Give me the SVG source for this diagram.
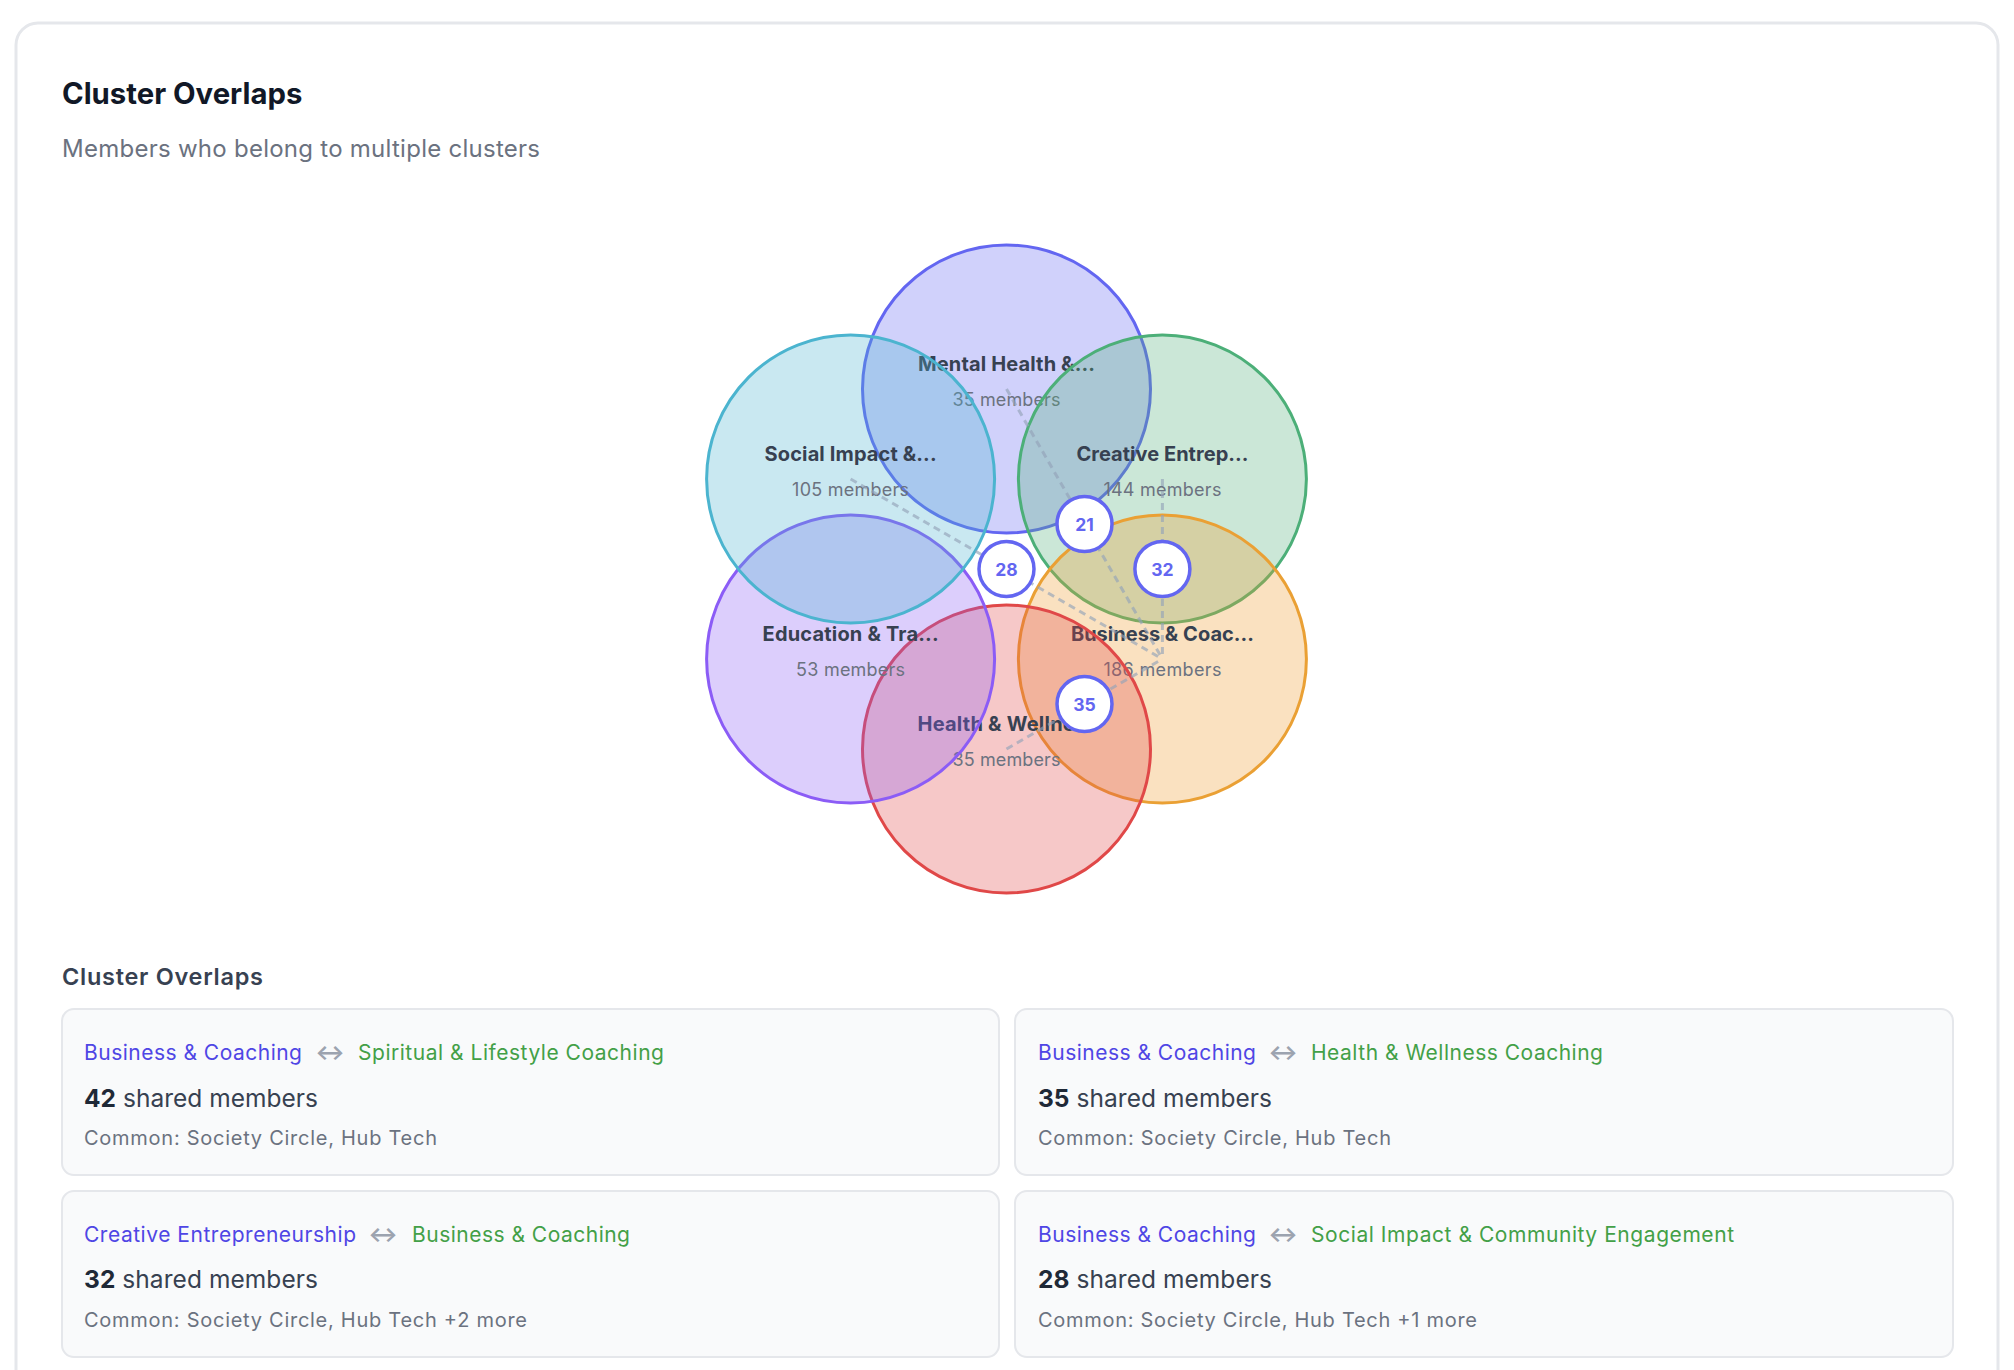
<svg xmlns="http://www.w3.org/2000/svg" width="2014" height="1370" viewBox="0 0 2014 1370">
<style>
text{font-family:Inter,"Liberation Sans",sans-serif}
.title{font-size:29.3px;font-weight:700;fill:#111827}
.sub{font-size:24px;fill:#6b7280}
.h2{font-size:23.5px;font-weight:600;fill:#374151}
.cl{stroke-width:3}
.name{font-size:20px;font-weight:700;fill:#374151;text-anchor:middle}
.cnt{font-size:18px;fill:#6b7280;text-anchor:middle}
.link{stroke:#94a3b8;stroke-opacity:.65;stroke-width:3;stroke-dasharray:7 5;fill:none}
.badge circle{fill:#fff;stroke:#6366f1;stroke-width:3.5}
.badge text{font-size:17.5px;font-weight:700;fill:#6366f1;text-anchor:middle}
.card{fill:#f9fafb;stroke:#e5e7eb;stroke-width:2}
.a{font-size:21px;fill:#4f46e5}
.b{font-size:21px;fill:#43a047}
.arr{font-size:22px;font-weight:700;fill:#9ca3af;text-anchor:middle}
.sh{font-size:24.5px;fill:#374151}
.sh tspan{font-weight:700;fill:#1f2937}
.com{font-size:20px;fill:#6b7280}
</style>
<rect x="16" y="23" width="1982" height="1420" rx="22" fill="#fff" stroke="#e5e7eb" stroke-width="3"/>
<text class="title" x="62" y="104">Cluster Overlaps</text>
<text class="sub" x="62" y="157" textLength="478" lengthAdjust="spacing">Members who belong to multiple clusters</text>

<g id="cluster-mental">
<circle class="cl" cx="1006.5" cy="389" r="144" fill="#6366f1" fill-opacity=".3" stroke="#6366f1"/>
<text class="name" x="1006.5" y="371" textLength="177" lengthAdjust="spacing">Mental Health &amp;...</text>
<text class="cnt" x="1006.5" y="406" textLength="108" lengthAdjust="spacing">35 members</text>
</g>
<g id="cluster-creative">
<circle class="cl" cx="1162.4" cy="479" r="144" fill="#52b07a" fill-opacity=".3" stroke="#4caf78"/>
<text class="name" x="1162.4" y="461" textLength="172" lengthAdjust="spacing">Creative Entrep...</text>
<text class="cnt" x="1162.4" y="496" textLength="118" lengthAdjust="spacing">144 members</text>
</g>
<g id="cluster-business">
<circle class="cl" cx="1162.4" cy="659" r="144" fill="#ee9c2e" fill-opacity=".3" stroke="#eaa034"/>
<text class="name" x="1162.4" y="641" textLength="183" lengthAdjust="spacing">Business &amp; Coac...</text>
<text class="cnt" x="1162.4" y="676" textLength="118" lengthAdjust="spacing">186 members</text>
</g>
<g id="cluster-health">
<circle class="cl" cx="1006.5" cy="749" r="144" fill="#e04a4a" fill-opacity=".3" stroke="#e04848"/>
<text class="name" x="1006.5" y="731" textLength="178" lengthAdjust="spacing">Health &amp; Wellne...</text>
<text class="cnt" x="1006.5" y="766" textLength="108" lengthAdjust="spacing">35 members</text>
</g>
<g id="cluster-education">
<circle class="cl" cx="850.6" cy="659" r="144" fill="#8b5cf6" fill-opacity=".3" stroke="#8b5cf6"/>
<text class="name" x="850.6" y="641" textLength="176" lengthAdjust="spacing">Education &amp; Tra...</text>
<text class="cnt" x="850.6" y="676" textLength="109" lengthAdjust="spacing">53 members</text>
</g>
<g id="cluster-social">
<circle class="cl" cx="850.6" cy="479" r="144" fill="#4bb4cf" fill-opacity=".3" stroke="#4bb4cf"/>
<text class="name" x="850.6" y="461" textLength="172" lengthAdjust="spacing">Social Impact &amp;...</text>
<text class="cnt" x="850.6" y="496" textLength="117" lengthAdjust="spacing">105 members</text>
</g>

<g id="connectors">
<line class="link" x1="1006.5" y1="389" x2="1162.4" y2="659"/>
<line class="link" x1="850.6" y1="479" x2="1162.4" y2="659"/>
<line class="link" x1="1162.4" y1="479" x2="1162.4" y2="659"/>
<line class="link" x1="1006.5" y1="749" x2="1162.4" y2="659"/>
</g>

<g id="overlap-21" class="badge"><circle cx="1084.5" cy="524" r="27.5"/><text x="1084.5" y="530.5">21</text></g>
<g id="overlap-28" class="badge"><circle cx="1006.5" cy="569" r="27.5"/><text x="1006.5" y="575.5">28</text></g>
<g id="overlap-32" class="badge"><circle cx="1162.4" cy="569" r="27.5"/><text x="1162.4" y="575.5">32</text></g>
<g id="overlap-35" class="badge"><circle cx="1084.5" cy="704" r="27.5"/><text x="1084.5" y="710.5">35</text></g>

<text class="h2" x="62" y="985" textLength="201" lengthAdjust="spacing">Cluster Overlaps</text>

<g id="card-1">
<rect class="card" x="62" y="1009" width="937" height="166" rx="12"/>
<text class="a" x="84" y="1060" textLength="218" lengthAdjust="spacing">Business &amp; Coaching</text>
<text class="arr" x="330" y="1060">↔</text>
<text class="b" x="358" y="1060" textLength="306" lengthAdjust="spacing">Spiritual &amp; Lifestyle Coaching</text>
<text class="sh" x="84" y="1107" textLength="234" lengthAdjust="spacing"><tspan>42</tspan> shared members</text>
<text class="com" x="84" y="1145" textLength="353" lengthAdjust="spacing">Common: Society Circle, Hub Tech</text>
</g>
<g id="card-2">
<rect class="card" x="1015" y="1009" width="938" height="166" rx="12"/>
<text class="a" x="1038" y="1060" textLength="218" lengthAdjust="spacing">Business &amp; Coaching</text>
<text class="arr" x="1283" y="1060">↔</text>
<text class="b" x="1311" y="1060" textLength="292" lengthAdjust="spacing">Health &amp; Wellness Coaching</text>
<text class="sh" x="1038" y="1107" textLength="234" lengthAdjust="spacing"><tspan>35</tspan> shared members</text>
<text class="com" x="1038" y="1145" textLength="353" lengthAdjust="spacing">Common: Society Circle, Hub Tech</text>
</g>
<g id="card-3">
<rect class="card" x="62" y="1191" width="937" height="166" rx="12"/>
<text class="a" x="84" y="1242" textLength="272" lengthAdjust="spacing">Creative Entrepreneurship</text>
<text class="arr" x="383" y="1242">↔</text>
<text class="b" x="412" y="1242" textLength="218" lengthAdjust="spacing">Business &amp; Coaching</text>
<text class="sh" x="84" y="1288" textLength="234" lengthAdjust="spacing"><tspan>32</tspan> shared members</text>
<text class="com" x="84" y="1327" textLength="443" lengthAdjust="spacing">Common: Society Circle, Hub Tech +2 more</text>
</g>
<g id="card-4">
<rect class="card" x="1015" y="1191" width="938" height="166" rx="12"/>
<text class="a" x="1038" y="1242" textLength="218" lengthAdjust="spacing">Business &amp; Coaching</text>
<text class="arr" x="1283" y="1242">↔</text>
<text class="b" x="1311" y="1242" textLength="423" lengthAdjust="spacing">Social Impact &amp; Community Engagement</text>
<text class="sh" x="1038" y="1288" textLength="234" lengthAdjust="spacing"><tspan>28</tspan> shared members</text>
<text class="com" x="1038" y="1327" textLength="439" lengthAdjust="spacing">Common: Society Circle, Hub Tech +1 more</text>
</g>
</svg>
